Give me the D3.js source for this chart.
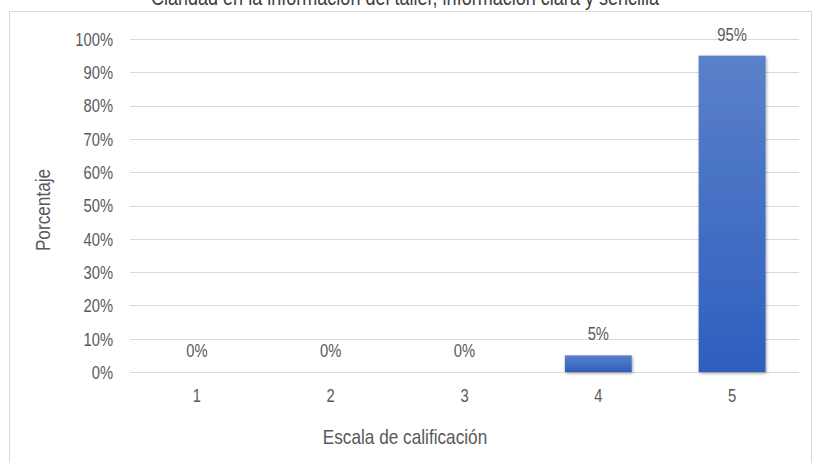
<!DOCTYPE html>
<html><head><meta charset="utf-8">
<script src="https://cdn.jsdelivr.net/npm/d3@7"></script>
<style>
html,body{margin:0;padding:0;background:#fff;}
svg{display:block;}
text{font-family:"Liberation Sans Narrow","Arial Narrow","Liberation Sans",Arial,sans-serif;fill:#595959;}
</style></head>
<body>
<svg id="chart" width="815" height="463"></svg>
<script>
const categories = ["1","2","3","4","5"];
const values = [0, 0, 0, 0.05, 0.95];
const valueLabels = ["0%","0%","0%","5%","95%"];
const yTicks = [0,0.1,0.2,0.3,0.4,0.5,0.6,0.7,0.8,0.9,1.0];
const titleText = "Claridad en la información del taller, información clara y sencilla";
const xTitle = "Escala de calificación";
const yTitle = "Porcentaje";

const N = 0.82; // narrow font horizontal scale
const svg = d3.select("#chart");
const W = 815, H = 463;
const m = {left:130, right:16, top:39, bottom:91};

// outer border
svg.append("rect").attr("x",9.5).attr("y",11.5).attr("width",802).attr("height",470)
  .attr("fill","#fff").attr("stroke","#d9d9d9").attr("stroke-width",1);

// title (cut off at top, as in the reference)
svg.append("g").attr("transform",`translate(405,5) scale(${N},1)`)
  .append("text").attr("text-anchor","middle")
  .style("font-size","22px").style("fill","#404040").text(titleText);

const x = d3.scaleBand().domain(categories).range([m.left, W-m.right]).paddingInner(0.5).paddingOuter(0.25);
const y = d3.scaleLinear().domain([0,1]).range([H-m.bottom, m.top]);

const defs = svg.append("defs");
const grad = defs.append("linearGradient").attr("id","barGrad").attr("x1",0).attr("y1",0).attr("x2",0).attr("y2",1);
grad.append("stop").attr("offset","0%").attr("stop-color","#5b80c9");
grad.append("stop").attr("offset","100%").attr("stop-color","#2e5fbf");
const f = defs.append("filter").attr("id","shadow").attr("x","-20%").attr("y","-20%").attr("width","140%").attr("height","140%");
f.append("feDropShadow").attr("dx",1).attr("dy",1.5).attr("stdDeviation",1.5).attr("flood-color","#000").attr("flood-opacity",0.35);

// gridlines
svg.append("g").selectAll("line").data(yTicks).join("line")
  .attr("x1",m.left).attr("x2",W-m.right)
  .attr("y1",d=>Math.round(y(d))+0.5).attr("y2",d=>Math.round(y(d))+0.5)
  .attr("stroke","#d9d9d9").attr("stroke-width",1);

// y axis labels
const yAxis = d3.axisLeft(y).tickValues(yTicks).tickFormat(d3.format(".0%")).tickSize(0);
const ya = svg.append("g").attr("transform",`translate(${m.left},0)`).call(yAxis);
ya.select(".domain").remove();
ya.selectAll("text").style("font-size","18px").style("fill","#595959")
  .attr("x",-17/N).attr("dy","0.35em").attr("transform",`scale(${N},1)`);

// x axis labels
const xAxis = d3.axisBottom(x).tickSize(0);
const xa = svg.append("g").attr("transform",`translate(0,${H-m.bottom})`).call(xAxis);
xa.select(".domain").remove();
xa.selectAll("text").style("font-size","18px").style("fill","#595959")
  .attr("y",30).attr("dy",0).attr("transform",`scale(${N},1)`);

// bars
svg.append("g").selectAll("rect").data(values).join("rect")
  .attr("x",(d,i)=>x(categories[i]))
  .attr("width",x.bandwidth())
  .attr("y",d=>y(d))
  .attr("height",d=>y(0)-y(d))
  .attr("fill","url(#barGrad)")
  .attr("filter","url(#shadow)");

// value labels
svg.append("g").selectAll("g").data(values).join("g")
  .attr("transform",(d,i)=>`translate(${x(categories[i])+x.bandwidth()/2},${y(d)-15}) scale(${N},1)`)
  .append("text")
  .attr("text-anchor","middle")
  .style("font-size","18px")
  .text((d,i)=>valueLabels[i]);

// axis titles
svg.append("g").attr("transform",`translate(405,444) scale(${N},1)`)
  .append("text").attr("text-anchor","middle").style("font-size","21px").text(xTitle);
svg.append("g").attr("transform",`translate(50,210) rotate(-90) scale(${N},1)`)
  .append("text").attr("text-anchor","middle").style("font-size","21px").text(yTitle);
</script>
</body></html>
